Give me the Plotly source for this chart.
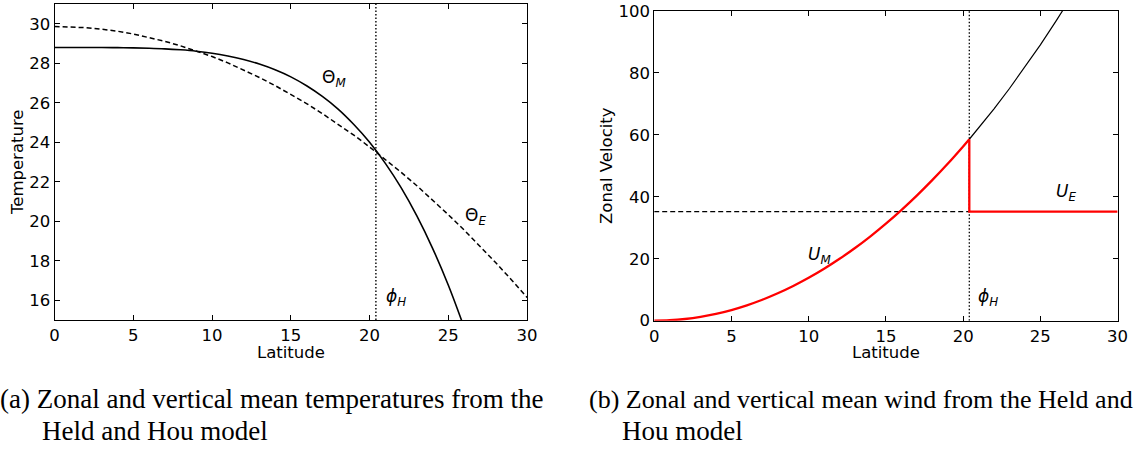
import plotly.graph_objects as go

# ---------------- data ----------------
phi_H = 20.4          # Hadley cell edge (deg)
U_E_value = 35.2      # equal-area wind value

lat_E = list(range(0, 31))
theta_E = [29.86, 29.84, 29.80, 29.72, 29.62, 29.48, 29.31, 29.11, 28.88, 28.63,
           28.34, 28.02, 27.66, 27.28, 26.87, 26.43, 25.96, 25.45, 24.92, 24.36,
           23.76, 23.14, 22.48, 21.80, 21.08, 20.33, 19.56, 18.75, 17.91, 17.04, 16.14]

lat_M = [0, 1, 2, 3, 4, 5, 6, 7, 8, 9, 10, 11, 12, 13, 14, 15, 16, 17, 18, 19,
         20, 21, 22, 23, 24, 25, 26]
theta_M = [28.80, 28.80, 28.80, 28.80, 28.79, 28.78, 28.76, 28.73, 28.68, 28.61,
           28.51, 28.37, 28.19, 27.96, 27.67, 27.31, 26.86, 26.32, 25.68, 24.90,
           24.00, 22.93, 21.70, 20.27, 18.63, 16.76, 14.63]

lat_U = [0, 1, 2, 3, 4, 5, 6, 7, 8, 9, 10, 11, 12, 13, 14, 15, 16, 17, 18, 19, 20, 20.4]
U_M = [0.0, 0.14, 0.55, 1.24, 2.21, 3.45, 4.97, 6.76, 8.84, 11.20, 13.84, 16.76,
       19.98, 23.47, 27.26, 31.35, 35.73, 40.40, 45.38, 50.67, 56.27, 58.59]

lat_U_ext = [20.4, 21, 22, 23, 24, 25, 26, 27]
U_M_ext = [58.59, 62.18, 68.41, 74.97, 81.85, 89.08, 96.64, 104.56]

lat_UE = [phi_H, phi_H, 30]
U_E = [U_M[-1], U_E_value, U_E_value]

xticks = [0, 5, 10, 15, 20, 25, 30]
yticks_a = [16, 18, 20, 22, 24, 26, 28, 30]
yticks_b = [0, 20, 40, 60, 80, 100]

# ---------------- figure ----------------
W, H = 1142, 450
TICKFONT = dict(family="DejaVu Sans", size=16.5, color="black")
LBLFONT = dict(family="DejaVu Sans", size=17, color="black")

fig = go.Figure()

# panel (a)
fig.add_trace(go.Scatter(x=lat_E, y=theta_E, mode="lines", xaxis="x", yaxis="y",
                         line=dict(color="black", width=1.5, dash="5px,3px"), showlegend=False))
fig.add_trace(go.Scatter(x=lat_M, y=theta_M, mode="lines", xaxis="x", yaxis="y",
                         line=dict(color="black", width=1.6, shape="spline"), showlegend=False))
fig.add_trace(go.Scatter(x=[phi_H, phi_H], y=[15, 31], mode="lines", xaxis="x", yaxis="y",
                         line=dict(color="black", width=1.4, dash="1.5px,2px"), showlegend=False))

# panel (b)
fig.add_trace(go.Scatter(x=lat_U_ext, y=U_M_ext, mode="lines", xaxis="x2", yaxis="y2",
                         line=dict(color="black", width=1.2), showlegend=False))
fig.add_trace(go.Scatter(x=[0, phi_H], y=[U_E_value, U_E_value], mode="lines", xaxis="x2", yaxis="y2",
                         line=dict(color="black", width=1.3, dash="5px,3px"), showlegend=False))
fig.add_trace(go.Scatter(x=[phi_H, phi_H], y=[0, 100], mode="lines", xaxis="x2", yaxis="y2",
                         line=dict(color="black", width=1.3, dash="1.5px,2px"), showlegend=False))
fig.add_trace(go.Scatter(x=lat_U, y=U_M, mode="lines", xaxis="x2", yaxis="y2",
                         line=dict(color="red", width=2.3, shape="spline"), showlegend=False))
fig.add_trace(go.Scatter(x=lat_UE, y=U_E, mode="lines", xaxis="x2", yaxis="y2",
                         line=dict(color="red", width=2.3), showlegend=False))

axis_common = dict(showgrid=False, zeroline=False, showline=True, mirror="ticks",
                   linecolor="black", linewidth=1, ticks="inside", ticklen=5,
                   tickcolor="black", tickwidth=1, tickfont=TICKFONT, automargin=False)

fig.update_layout(
    width=W, height=H,
    margin=dict(l=0, r=0, t=0, b=0, autoexpand=False),
    paper_bgcolor="white", plot_bgcolor="white",
    xaxis=dict(domain=[54.6 / W, 527.1 / W], range=[0, 30], tickvals=xticks,
               anchor="y", **axis_common),
    yaxis=dict(domain=[(H - 320) / H, (H - 4) / H], range=[15, 31], tickvals=yticks_a,
               anchor="x", **axis_common),
    xaxis2=dict(domain=[654.2 / W, 1117.6 / W], range=[0, 30], tickvals=xticks,
                anchor="y2", **axis_common),
    yaxis2=dict(domain=[(H - 320.7) / H, (H - 11) / H], range=[0, 100], tickvals=yticks_b,
                anchor="x2", **axis_common),
)

ann = []
# axis titles
ann.append(dict(text="Latitude", x=(54.6 + 527.1) / 2 / W, y=(H - 352) / H, xref="paper", yref="paper",
                showarrow=False, font=TICKFONT, xanchor="center", yanchor="middle"))
ann.append(dict(text="Temperature", x=17 / W, y=(H - 162) / H, xref="paper", yref="paper",
                showarrow=False, font=TICKFONT, textangle=-90, xanchor="center", yanchor="middle"))
ann.append(dict(text="Latitude", x=(654.2 + 1117.6) / 2 / W, y=(H - 352) / H, xref="paper", yref="paper",
                showarrow=False, font=TICKFONT, xanchor="center", yanchor="middle"))
ann.append(dict(text="Zonal Velocity", x=606 / W, y=(H - 166) / H, xref="paper", yref="paper",
                showarrow=False, font=TICKFONT, textangle=-90, xanchor="center", yanchor="middle"))

# curve labels
ann.append(dict(text="Θ<sub><i>M</i></sub>", x=17.75, y=27.25, xref="x", yref="y",
                showarrow=False, font=LBLFONT))
ann.append(dict(text="Θ<sub><i>E</i></sub>", x=26.7, y=20.25, xref="x", yref="y",
                showarrow=False, font=LBLFONT))
ann.append(dict(text="<i>ϕ</i><sub><i>H</i></sub>", x=21.65, y=16.15, xref="x", yref="y",
                showarrow=False, font=LBLFONT))
ann.append(dict(text="<i>U</i><sub><i>M</i></sub>", x=10.7, y=21.2, xref="x2", yref="y2",
                showarrow=False, font=LBLFONT))
ann.append(dict(text="<i>U</i><sub><i>E</i></sub>", x=26.65, y=41.3, xref="x2", yref="y2",
                showarrow=False, font=LBLFONT))
ann.append(dict(text="<i>ϕ</i><sub><i>H</i></sub>", x=21.6, y=7.4, xref="x2", yref="y2",
                showarrow=False, font=LBLFONT))

# captions
CAPFONT_A = dict(family="Liberation Serif", size=27, color="black")
CAPFONT_B = dict(family="Liberation Serif", size=26, color="black")
ann.append(dict(text="(a) Zonal and vertical mean temperatures from the", x=-2 / W, y=(H - 399) / H,
                xref="paper", yref="paper", showarrow=False, font=CAPFONT_A, xanchor="left", yanchor="middle"))
ann.append(dict(text="Held and Hou model", x=40 / W, y=(H - 431) / H,
                xref="paper", yref="paper", showarrow=False, font=CAPFONT_A, xanchor="left", yanchor="middle"))
ann.append(dict(text="(b) Zonal and vertical mean wind from the Held and", x=587 / W, y=(H - 399) / H,
                xref="paper", yref="paper", showarrow=False, font=CAPFONT_B, xanchor="left", yanchor="middle"))
ann.append(dict(text="Hou model", x=620 / W, y=(H - 431) / H,
                xref="paper", yref="paper", showarrow=False, font=CAPFONT_A, xanchor="left", yanchor="middle"))

fig.update_layout(annotations=ann)
fig.write_html("out.html", config={"displayModeBar": False},
               post_script="document.body.style.margin='0';document.body.style.padding='0';")
